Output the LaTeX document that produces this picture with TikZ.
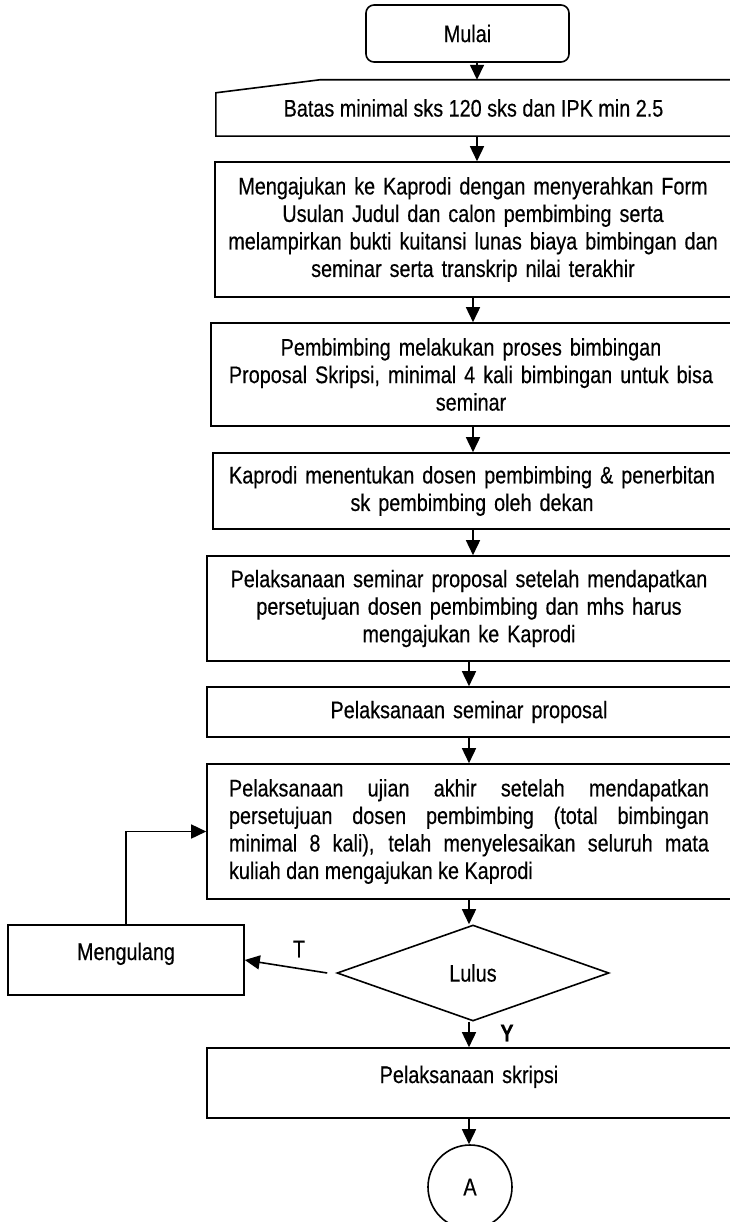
\documentclass[tikz,border=0pt]{standalone}
\usepackage{fontspec}
\setmainfont{Liberation Sans}[FakeStretch=0.825,FakeBold=0.4]
\usetikzlibrary{shapes.geometric,arrows.meta,calc}
\hyphenpenalty=10000
\exhyphenpenalty=10000
\newcommand{\fsize}{\fontsize{24}{27.5}\selectfont}

\begin{document}
\begin{tikzpicture}[x=1pt,y=-1pt,
	every node/.style={font=\fsize},
	box/.style={draw,line width=1.6pt,rectangle,align=center,text width=500pt},
	arr/.style={line width=1.6pt,-{Triangle[length=15pt,width=14pt]}}]
	\useasboundingbox (0,0) rectangle (729,1222);

	% Start and input
	\node[draw,line width=1.6pt,rounded corners=8pt,minimum width=203pt,minimum height=57pt] (mulai) at (467.5,33.5) {Mulai};
	\node[minimum width=515pt,minimum height=56pt] (batas) at (473.5,108) {Batas minimal sks 120 sks dan IPK min 2.5};
	\draw[line width=1.6pt] (batas.south west) -- ($(batas.north west)+(0,13)$) -- ($(batas.north west)+(104,0)$)
		-- (batas.north east) -- (batas.south east) -- cycle;

	% Process boxes
	\node[box,minimum width=516pt,minimum height=135pt] (b3) at (473,229.5)
		{Mengajukan ke Kaprodi dengan menyerahkan Form\\ Usulan Judul dan calon pembimbing serta\\ melampirkan bukti kuitansi lunas biaya bimbingan dan\\ seminar serta transkrip nilai terakhir};
	\node[box,minimum width=520pt,minimum height=103pt] (b4) at (471,374.5)
		{Pembimbing melakukan proses bimbingan\\ Proposal Skripsi, minimal 4 kali bimbingan untuk bisa\\ seminar};
	\node[box,minimum width=518pt,minimum height=76pt] (b5) at (472,491)
		{Kaprodi menentukan dosen pembimbing \& penerbitan\\ sk pembimbing oleh dekan};
	\node[box,minimum width=524pt,minimum height=105pt] (b6) at (469,608.5)
		{Pelaksanaan seminar proposal setelah mendapatkan\\ persetujuan dosen pembimbing dan mhs harus\\ mengajukan ke Kaprodi};
	\node[box,minimum width=524pt,minimum height=50pt] (b7) at (469,712) {Pelaksanaan seminar proposal};
	\node[box,align=justify,text width=480pt,minimum width=524pt,minimum height=135pt] (b8) at (469,831.5)
		{Pelaksanaan ujian akhir setelah mendapatkan\linebreak persetujuan dosen pembimbing (total bimbingan\linebreak minimal 8 kali), telah menyelesaikan seluruh mata\linebreak kuliah dan mengajukan ke Kaprodi};

	% Decision
	\node[draw,line width=1.6pt,diamond,minimum width=272pt,minimum height=96pt] (lulus) at (473,973) {Lulus};
	\node[box,text width=200pt,text height=14pt,text depth=14pt,minimum width=236pt,minimum height=70pt] (mengulang) at (126,960) {Mengulang};
	\node[box,text height=14pt,text depth=14pt,minimum width=524pt,minimum height=70pt] (b9) at (469,1083) {Pelaksanaan skripsi};
	\node[draw,line width=1.6pt,circle,minimum size=84pt] (conA) at (470,1187) {A};

	% Flow lines
	\coordinate (xA) at (477,0);
	\coordinate (xB) at (473,0);
	\coordinate (xC) at (469,0);
	\foreach \a/\b/\c in {mulai/batas/xA,batas/b3/xA,b3/b4/xB,b4/b5/xB,b5/b6/xB,b6/b7/xC,b7/b8/xC,b8/lulus/xC,lulus/b9/xC,b9/conA/xC}
		\draw[arr] (\a.south -| \c) -- (\b.north -| \c);

	% Loop back
	\draw[arr] ([xshift=-9pt]lulus.west) -- (mengulang.east);
	\draw[arr] (mengulang.north) |- (b8.west);
	\node (lblT) at (299,949) {T};
	\node[font=\fsize\bfseries] (lblY) at (507,1033) {Y};
\end{tikzpicture}
\end{document}
